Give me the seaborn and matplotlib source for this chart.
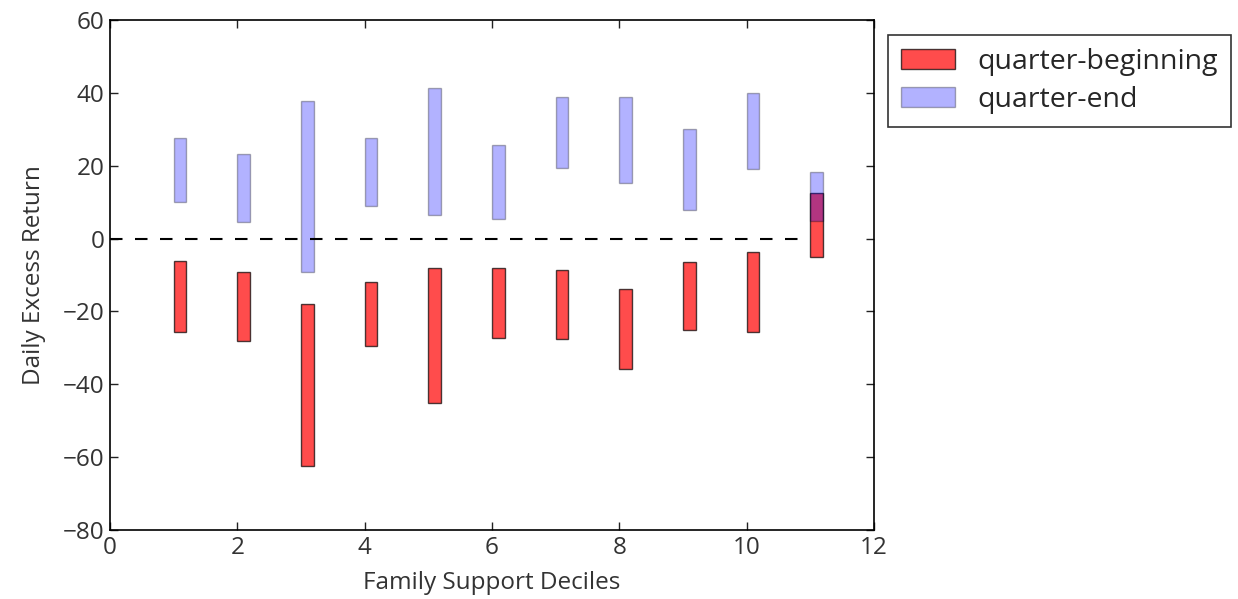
import matplotlib
matplotlib.use("Agg")
import matplotlib.pyplot as plt
import seaborn as sns
import numpy as np

deciles = [1, 2, 3, 4, 5, 6, 7, 8, 9, 10, 11]
qb_low = [-25.6, -28.1, -62.4, -29.5, -45.1, -27.3, -27.6, -35.8, -25.1, -25.6, -5.0]
qb_high = [-6.1, -9.2, -18.0, -11.9, -8.1, -8.1, -8.6, -13.8, -6.4, -3.7, 12.6]
qe_low = [10.0, 4.6, -9.2, 8.9, 6.5, 5.4, 19.4, 15.3, 7.9, 19.1, 4.8]
qe_high = [27.6, 23.2, 37.8, 27.6, 41.3, 25.7, 38.9, 38.9, 30.1, 40.0, 18.3]
series_labels = ["quarter-beginning", "quarter-end"]

sns.set_style("white")
plt.rcParams["font.family"] = ["Open Sans", "DejaVu Sans"]

fig = plt.figure(figsize=(12.38, 5.99), dpi=100)
ax = fig.add_axes([110/1238, 1 - 530/599, (874-110)/1238, (530-20)/599])

x = np.array(deciles, dtype=float)
qb_h = np.array(qb_high) - np.array(qb_low)
qe_h = np.array(qe_high) - np.array(qe_low)
ax.bar(x, qb_h, width=0.2, bottom=qb_low, align="edge", color="red", alpha=0.7,
       edgecolor="black", linewidth=1.0, label=series_labels[0])
ax.bar(x, qe_h, width=0.2, bottom=qe_low, align="edge", color="blue", alpha=0.3,
       edgecolor="black", linewidth=1.0, label=series_labels[1])
ax.plot([0, 11], [0, 0], "k--", linewidth=1.5, dashes=(6, 6))

ax.set_xlim(0, 12)
ax.set_ylim(-80, 60)
ax.set_xticks(range(0, 13, 2))
ax.set_yticks(range(-80, 61, 20))
ax.tick_params(direction="in", length=6, width=1, labelsize=17.5, colors="#222222",
               top=True, right=True, bottom=True, left=True, labelcolor="#333333",
               pad=4)
for s in ax.spines.values():
    s.set_visible(True)
    s.set_color("black")
    s.set_linewidth(1.2)
ax.set_xlabel("Family Support Deciles", fontsize=17.5, color="#333333", labelpad=8)
ax.set_ylabel("Daily Excess Return", fontsize=17.5, color="#333333", labelpad=12)

leg = ax.legend(loc="upper left", bbox_to_anchor=(1.018, 0.971), fontsize=20.5,
                frameon=True, fancybox=False, edgecolor="black", borderaxespad=0.0,
                handlelength=1.9, labelspacing=0.38, borderpad=0.45)
leg.get_frame().set_linewidth(1.2)

fig.savefig("out.png", dpi=100)
